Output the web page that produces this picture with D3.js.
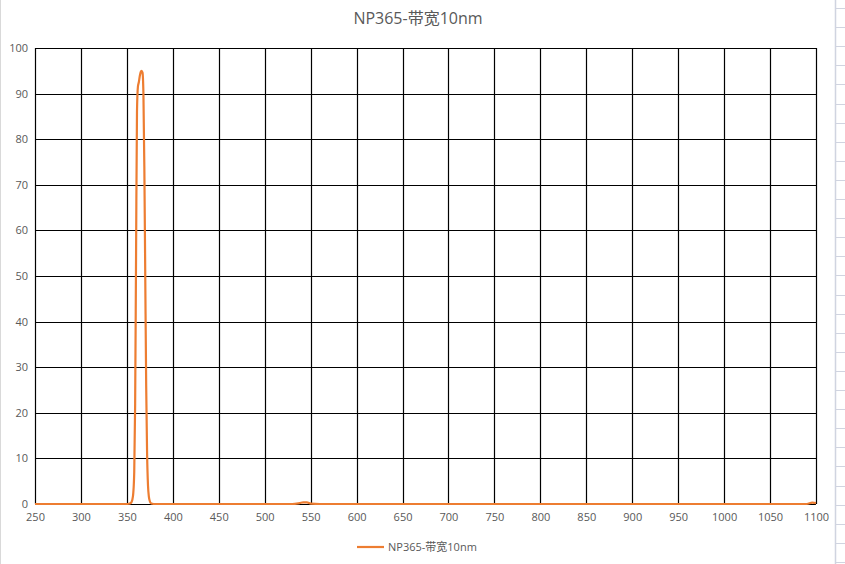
<!DOCTYPE html>
<html lang="zh">
<head>
  <meta charset="UTF-8" />
  <title>NP365-带宽10nm</title>
  <script src="https://d3js.org/d3.v7.min.js"></script>
  <style>
    body {
      margin: 0;
      background: #fff;
      font-family: 'Open Sans', 'Noto Sans CJK SC', sans-serif;
    }
    svg text { fill: #595959; }
  </style>
</head>
<body>
  <svg id="chart"></svg>

  <script>
    // wavelength (nm) and transmittance (%)
    const wavelengths = [
      250, 300, 340, 350, 352, 354, 355, 356, 357, 358, 359, 360, 361, 362, 363, 364, 365, 366,
      367, 368, 369, 370, 371, 372, 373, 374, 375, 376, 378, 380, 400, 450, 500, 530, 538,
      542, 546, 550, 560, 600, 700, 800, 900, 1000, 1050, 1090, 1096, 1100
    ];
    const transmittance = [
      0, 0, 0, 0, 0.05, 0.2, 0.4, 1, 2.5, 7, 22, 55, 86, 91.5, 92.5, 93.8, 94.7, 95,
      94.6, 90, 74, 50, 26, 11, 4, 1.5, 0.6, 0.2, 0.05, 0, 0, 0, 0, 0, 0.2,
      0.35, 0.35, 0.1, 0, 0, 0, 0, 0, 0, 0, 0, 0.3, 0.2
    ];
    const xTicks = d3.range(250, 1101, 50);
    const yTicks = d3.range(0, 101, 10);
    const title = "NP365-带宽10nm";
    const seriesName = "NP365-带宽10nm";

    const W = 845, H = 564;
    const svg = d3.select("#chart").attr("width", W).attr("height", H);

    const margin = { top: 48, right: 29, bottom: 60, left: 35 };
    const width = W - margin.left - margin.right;
    const height = H - margin.top - margin.bottom;

    const x = d3.scaleLinear().domain([250, 1100]).range([margin.left, margin.left + width]);
    const y = d3.scaleLinear().domain([0, 100]).range([margin.top + height, margin.top]);

    // spreadsheet window edges
    svg.append("line")
      .attr("x1", 0.5).attr("x2", 0.5).attr("y1", 0).attr("y2", H)
      .attr("stroke", "#d9d9d9").attr("stroke-width", 1);
    svg.append("line")
      .attr("x1", 835.5).attr("x2", 835.5).attr("y1", 0).attr("y2", H)
      .attr("stroke", "#d0d4e0").attr("stroke-width", 1.5);
    svg.append("g")
      .selectAll("line")
      .data(d3.range(8, H, 19.1))
      .join("line")
      .attr("x1", 836).attr("x2", 845)
      .attr("y1", d => Math.round(d) + 0.5).attr("y2", d => Math.round(d) + 0.5)
      .attr("stroke", "#d0d4e0");

    // grid
    const grid = svg.append("g");
    grid.selectAll(".vg")
      .data(xTicks)
      .join("line")
      .attr("class", "vg")
      .attr("x1", d => Math.round(x(d)) + 0.5).attr("x2", d => Math.round(x(d)) + 0.5)
      .attr("y1", y(100)).attr("y2", y(0))
      .attr("stroke", "#000").attr("stroke-width", 1.2);
    grid.selectAll(".hg")
      .data(yTicks)
      .join("line")
      .attr("class", "hg")
      .attr("x1", x(250)).attr("x2", x(1100))
      .attr("y1", d => Math.round(y(d)) + 0.5).attr("y2", d => Math.round(y(d)) + 0.5)
      .attr("stroke", "#000").attr("stroke-width", 1.2);

    // axes labels
    const xAxis = d3.axisBottom(x).tickValues(xTicks).tickFormat(d3.format("d")).tickSize(0).tickPadding(9);
    svg.append("g")
      .attr("transform", `translate(0,${y(0)})`)
      .call(xAxis)
      .call(g => g.select(".domain").remove())
      .selectAll("text")
      .attr("font-family", "'Open Sans', sans-serif")
      .attr("font-size", "11px")
      .attr("fill", "#595959");

    const yAxis = d3.axisLeft(y).tickValues(yTicks).tickFormat(d3.format("d")).tickSize(0).tickPadding(7);
    svg.append("g")
      .attr("transform", `translate(${x(250)},0)`)
      .call(yAxis)
      .call(g => g.select(".domain").remove())
      .selectAll("text")
      .attr("font-family", "'Open Sans', sans-serif")
      .attr("font-size", "11px")
      .attr("fill", "#595959");

    // series
    const data = wavelengths.map((w, i) => ({ w, t: transmittance[i] }));
    const line = d3.line()
      .x(d => x(d.w))
      .y(d => y(d.t))
      .curve(d3.curveMonotoneX);

    svg.append("path")
      .datum(data)
      .attr("fill", "none")
      .attr("stroke", "#ED7D31")
      .attr("stroke-width", 2.2)
      .attr("stroke-linejoin", "round")
      .attr("d", line);

    // title
    svg.append("text")
      .attr("x", 418)
      .attr("y", 24)
      .attr("text-anchor", "middle")
      .attr("font-size", "16px")
      .text(title);

    // legend
    const legend = svg.append("g").attr("transform", "translate(357,547)");
    legend.append("line")
      .attr("x1", 0).attr("x2", 27)
      .attr("stroke", "#ED7D31").attr("stroke-width", 2.2);
    legend.append("text")
      .attr("x", 31)
      .attr("y", 4)
      .attr("font-size", "11px")
      .text(seriesName);
  </script>
</body>
</html>
